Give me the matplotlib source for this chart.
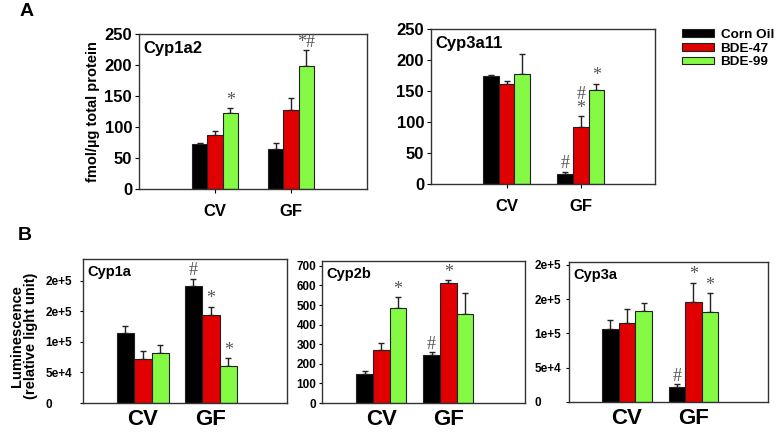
import matplotlib
matplotlib.use("Agg")
import matplotlib.pyplot as plt
import numpy as np
from matplotlib.patches import Patch

plt.rcParams['font.family'] = ['Liberation Sans', 'DejaVu Sans']
plt.rcParams['font.weight'] = 'bold'

groups = ["CV", "GF"]
series = ["Corn Oil", "BDE-47", "BDE-99"]
colors = ["#000000", "#e00000", "#84fa44"]

# Panel A: Cyp1a2 (fmol/ug total protein)
cyp1a2_vals = [[72, 87, 123], [64, 128, 198]]
cyp1a2_err = [[2, 6, 7], [11, 19, 26]]
cyp1a2_ann = [["", "", "*"], ["", "", "*#"]]

# Panel A: Cyp3a11
cyp3a11_vals = [[174, 161, 178], [16, 92, 152]]
cyp3a11_err = [[2, 5, 32], [4, 18, 10]]
cyp3a11_ann = [["", "", ""], ["#", "#\n*", "*"]]

# Panel B: Cyp1a (luminescence)
cyp1a_vals = [[114000, 72000, 82000], [191000, 144000, 61000]]
cyp1a_err = [[12000, 13000, 13000], [13000, 14000, 12000]]
cyp1a_ann = [["", "", ""], ["#", "*", "*"]]
cyp1a_ticks = [0, 50000, 100000, 150000, 200000]
cyp1a_ticklabels = ["0", "5e+4", "1e+5", "2e+5", "2e+5"]

# Panel B: Cyp2b
cyp2b_vals = [[150, 270, 486], [246, 613, 456]]
cyp2b_err = [[15, 38, 54], [15, 15, 107]]
cyp2b_ann = [["", "", "*"], ["#", "*", ""]]
cyp2b_ticks = [0, 100, 200, 300, 400, 500, 600, 700]

# Panel B: Cyp3a
cyp3a_vals = [[106000, 115000, 132500], [22000, 146000, 131500]]
cyp3a_err = [[13000, 20000, 12000], [4000, 28000, 27000]]
cyp3a_ann = [["", "", ""], ["#", "*", "*"]]
cyp3a_ticks = [0, 50000, 100000, 150000, 200000]
cyp3a_ticklabels = ["0", "5e+4", "1e+5", "2e+5", "2e+5"]

W, H = 777, 434
fig = plt.figure(figsize=(W / 100, H / 100), dpi=100)


def ax_at(l, t, r, b):
    return fig.add_axes([l / W, 1 - b / H, (r - l) / W, (b - t) / H])


def draw(ax, vals, errs, anns, width, ymax, title, title_fs, tick_fs, xl_fs):
    x = np.arange(len(groups))
    for i in range(3):
        xs = x + (i - 1) * width
        v = [vals[g][i] for g in range(len(groups))]
        e = [errs[g][i] for g in range(len(groups))]
        ax.bar(xs, v, width, color=colors[i], edgecolor="#222222", linewidth=0.8, zorder=2)
        ax.errorbar(xs, v, yerr=[np.zeros(len(e)), e], fmt="none", ecolor="#222222",
                    elinewidth=1.0, capsize=2, capthick=1.0, zorder=1)
        for g in range(len(groups)):
            a = anns[g][i]
            if a:
                ax.text(xs[g], v[g] + e[g] - 0.005 * ymax, a, ha="center", va="bottom",
                        color="#555555", fontsize=13, family="Liberation Serif",
                        fontweight="normal", linespacing=0.7)
    ax.set_ylim(0, ymax)
    ax.set_xticks(x)
    ax.set_xticklabels(groups, fontsize=xl_fs, fontweight="bold")
    ax.tick_params(axis="y", labelsize=tick_fs, length=3, width=0.8, pad=2)
    ax.tick_params(axis="x", length=3, width=0.8, pad=8)
    for s in ax.spines.values():
        s.set_color("#333333")
        s.set_linewidth(1.0)
    ax.text(0.02, 0.955, title, transform=ax.transAxes, ha="left", va="top",
            fontsize=title_fs, fontweight="bold")


# A1
a1 = ax_at(139, 34, 367, 189)
a1.set_xlim(-1, 2)
draw(a1, cyp1a2_vals, cyp1a2_err, cyp1a2_ann, 0.2, 250, "Cyp1a2", 12, 12, 12)
a1.set_yticks([0, 50, 100, 150, 200, 250])
a1.set_ylabel("fmol/\u00b5g total protein", fontsize=10.5, fontweight="bold", labelpad=3)

# A2
a2 = ax_at(431, 29, 655, 184)
a2.set_xlim(-1.02, 2.0)
draw(a2, cyp3a11_vals, cyp3a11_err, cyp3a11_ann, 0.21, 250, "Cyp3a11", 12, 12, 12)
a2.set_yticks([0, 50, 100, 150, 200, 250])

# B1
b1 = ax_at(83, 259, 287, 403)
b1.set_xlim(-0.88, 2.12)
draw(b1, cyp1a_vals, cyp1a_err, cyp1a_ann, 0.257, 236000, "Cyp1a", 10.5, 8.5, 16)
b1.set_yticks(cyp1a_ticks)
b1.set_yticklabels(cyp1a_ticklabels)
b1.set_ylabel("Luminescence\n(relative light unit)", fontsize=10.5, fontweight="bold",
              linespacing=1.0)
b1.yaxis.set_label_coords(-0.22, 0.465)

# B2
b2 = ax_at(322, 261, 525, 403)
b2.set_xlim(-0.89, 2.15)
draw(b2, cyp2b_vals, cyp2b_err, cyp2b_ann, 0.25, 725, "Cyp2b", 10.5, 8.5, 16)
b2.set_yticks(cyp2b_ticks)

# B3
b3 = ax_at(569, 262, 768, 402)
b3.set_xlim(-0.87, 2.12)
draw(b3, cyp3a_vals, cyp3a_err, cyp3a_ann, 0.25, 204000, "Cyp3a", 10.5, 8.5, 16)
b3.set_yticks(cyp3a_ticks)
b3.set_yticklabels(cyp3a_ticklabels)

for ax in (b1, b2, b3):
    ax.tick_params(axis="x", length=0, pad=4)
    ax.tick_params(axis="y", length=2)
b2.tick_params(axis="y", pad=2)
b1.tick_params(axis="y", pad=25)
b3.tick_params(axis="y", pad=23)
for ax in (b1, b3):
    for lab in ax.get_yticklabels():
        lab.set_horizontalalignment("left")

# Legend
handles = [Patch(facecolor=c, edgecolor="#222222", linewidth=0.8) for c in colors]
fig.legend(handles, series, loc="upper left", bbox_to_anchor=(681.5 / W, 1 - 29 / H),
           frameon=False, handlelength=2.4, handleheight=0.48, borderpad=0,
           borderaxespad=0, labelspacing=0.12, handletextpad=0.5,
           prop={"weight": "bold", "size": 9.7})

fig.text(27 / W, 1 - 12 / H, "A", fontsize=14, fontweight="bold", ha="center", va="center")
fig.text(25 / W, 1 - 235 / H, "B", fontsize=14, fontweight="bold", ha="center", va="center")

fig.savefig("out.png", dpi=100)
